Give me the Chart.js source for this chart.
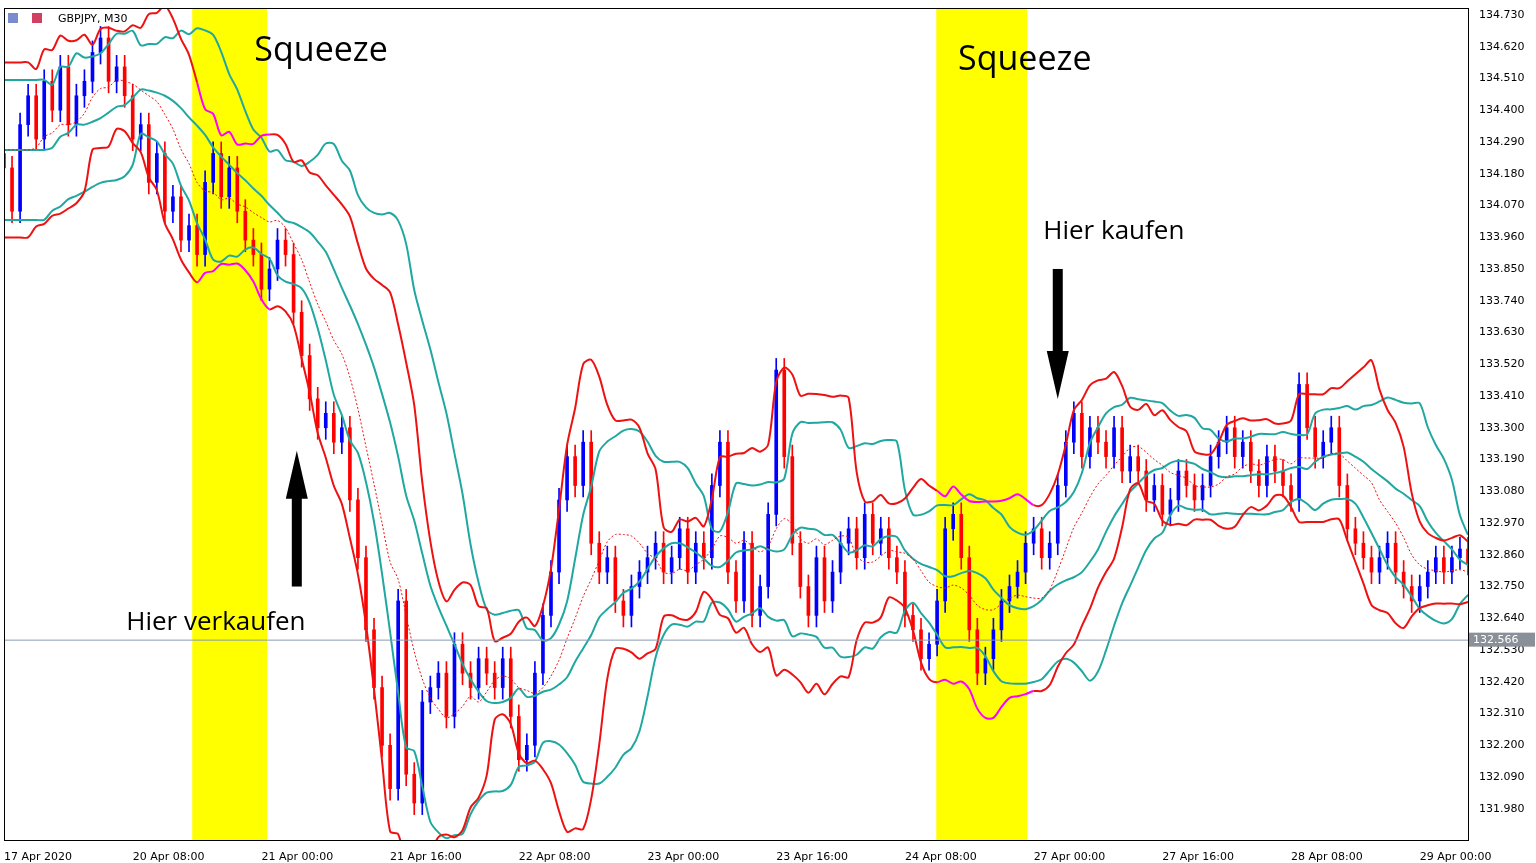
<!DOCTYPE html>
<html><head><meta charset="utf-8">
<script src="https://cdn.jsdelivr.net/npm/chart.js@4.4.1/dist/chart.umd.min.js"></script>
<style>html,body{margin:0;background:#fff}#wrap{width:1536px;height:863px}</style>
</head><body><div id="wrap"><canvas id="c"></canvas></div>
<script>
// M30 closes, one per candle (about 1 hour each)
const closes=[134.20,134.05,134.35,134.45,134.30,134.50,134.40,134.55,134.35,134.45,
134.50,134.60,134.65,134.50,134.55,134.45,134.30,134.35,134.15,134.25,
134.05,134.10,133.95,134.00,133.90,134.15,134.25,134.10,134.20,134.05,
133.95,133.90,133.78,133.85,133.95,133.90,133.70,133.55,133.40,133.30,
133.35,133.25,133.30,133.05,132.85,132.60,132.40,132.20,132.05,132.70,
132.10,132.00,132.35,132.40,132.45,132.30,132.55,132.45,132.40,132.50,
132.45,132.40,132.50,132.30,132.15,132.20,132.45,132.65,132.80,133.05,
133.20,133.10,133.25,132.90,132.80,132.85,132.70,132.65,132.75,132.80,
132.85,132.90,132.80,132.85,132.95,132.80,132.90,132.85,133.10,133.25,
132.80,132.70,132.90,132.65,132.75,133.00,133.50,133.20,132.90,132.75,
132.65,132.85,132.70,132.80,132.90,132.95,132.85,133.00,132.90,132.95,
132.85,132.80,132.65,132.60,132.50,132.55,132.70,132.95,133.00,132.85,
132.60,132.45,132.50,132.60,132.70,132.75,132.80,132.90,132.95,132.85,
132.90,133.10,133.25,133.35,133.20,133.30,133.25,133.20,133.30,133.15,
133.20,133.15,133.05,133.10,133.00,133.05,133.15,133.10,133.05,133.10,
133.20,133.25,133.30,133.20,133.25,133.15,133.10,133.20,133.15,133.10,
133.05,133.45,133.30,133.20,133.25,133.30,133.10,132.95,132.90,132.85,
132.80,132.85,132.90,132.80,132.75,132.70,132.75,132.80,132.85,132.80,
132.85,132.88,132.83];
const firstOpen=134.25, wick=0.04;
const dateLabels={0:'17 Apr 2020',16:'20 Apr 08:00',32:'21 Apr 00:00',48:'21 Apr 16:00',64:'22 Apr 08:00',80:'23 Apr 00:00',96:'23 Apr 16:00',112:'24 Apr 08:00',128:'27 Apr 00:00',144:'27 Apr 16:00',160:'28 Apr 08:00',176:'29 Apr 00:00'};
const priceTicks=[131.98,132.09,132.20,132.31,132.42,132.53,132.64,132.75,132.86,132.97,133.08,133.19,133.30,133.41,133.52,133.63,133.74,133.85,133.96,134.07,134.18,134.29,134.40,134.51,134.62,134.73];
const squeezes=[[23.4,32.7],[115.9,127.2]];
const lastPrice=132.566;

const opens=closes.map((c,i)=>i?closes[i-1]:firstOpen);
const labels=closes.map((_,i)=>i);
const bodies=closes.map((c,i)=>[opens[i],c]);
const wicks=closes.map((c,i)=>[Math.min(c,opens[i])-wick,Math.max(c,opens[i])+wick]);
const col=closes.map((c,i)=>c>=opens[i]?'#0000ff':'#ff0000');
function bands(p,k,shift){
  const up=[],lo=[],mid=[];
  closes.forEach((_,i)=>{
    const j=Math.max(i-shift,3), w=closes.slice(Math.max(0,j-p+1),j+1), m=w.reduce((a,b)=>a+b)/w.length;
    const sd=Math.sqrt(w.reduce((a,b)=>a+(b-m)**2,0)/w.length);
    up.push(m+k*sd);lo.push(m-k*sd);mid.push(m);
  });
  return {up,lo,mid};
}
const red=bands(10,2,0), teal=bands(14,1.6,2);
const inSq=x=>squeezes.some(s=>x>=s[0]&&x<=s[1]);
const redSeg={borderColor:c=>inSq(c.p0DataIndex)?'#ff00ff':'#ee1111'};
const line=(data,color,extra)=>Object.assign({type:'line',data,borderColor:color,borderWidth:2,pointRadius:0,tension:0.3},extra||{});

const overlay={id:'overlay',
 beforeDatasetsDraw(ch){
  const {ctx,chartArea:a,scales:{x}}=ch;
  ctx.save();ctx.fillStyle='#ffff00';
  squeezes.forEach(s=>{const x0=x.getPixelForValue(s[0]),x1=x.getPixelForValue(s[1]);ctx.fillRect(x0,a.top,x1-x0,a.bottom-a.top);});
  ctx.restore();
 },
 afterDatasetsDraw(ch){
  const {ctx,chartArea:a,scales:{x,y}}=ch;
  ctx.save();
  const yl=y.getPixelForValue(lastPrice);
  ctx.strokeStyle='#8a9ab0';ctx.lineWidth=1;ctx.beginPath();ctx.moveTo(a.left,yl+.5);ctx.lineTo(a.right,yl+.5);ctx.stroke();
  ctx.fillStyle='#8a9099';ctx.fillRect(a.right+1,yl-7,66,14);
  ctx.fillStyle='#fff';ctx.font='11px "DejaVu Sans"';ctx.textBaseline='middle';ctx.fillText(lastPrice.toFixed(3),a.right+5,yl);
  ctx.fillStyle='#000';ctx.font='34px "Open Sans"';ctx.textBaseline='alphabetic';
  ctx.fillText('Squeeze',x.getPixelForValue(31)+1,y.getPixelForValue(134.57));
  ctx.fillText('Squeeze',x.getPixelForValue(118.6),y.getPixelForValue(134.54));
  ctx.font='26px "Open Sans"';
  ctx.fillText('Hier verkaufen',x.getPixelForValue(15.2),y.getPixelForValue(132.60));
  ctx.fillText('Hier kaufen',x.getPixelForValue(129.2),y.getPixelForValue(133.955));
  const arrow=(xi,p0,p1)=>{const xx=x.getPixelForValue(xi),y0=y.getPixelForValue(p0),y1=y.getPixelForValue(p1),d=y1<y0?1:-1;
    ctx.fillRect(xx-5,Math.min(y0,y1+d*45),10,Math.abs(y0-y1)-45);
    ctx.beginPath();ctx.moveTo(xx,y1);ctx.lineTo(xx-11,y1+d*48);ctx.lineTo(xx+11,y1+d*48);ctx.closePath();ctx.fill();};
  arrow(36.4,132.75,133.22);arrow(131.0,133.85,133.4);
  ctx.font='11px "DejaVu Sans"';ctx.textBaseline='middle';
  ctx.fillStyle='#7a8cd0';ctx.fillRect(a.left+4,a.top+5,10,10);ctx.fillStyle='#d04060';ctx.fillRect(a.left+28,a.top+5,10,10);
  ctx.fillStyle='#000';ctx.fillText('GBPJPY, M30',a.left+54,a.top+11);
  ctx.strokeStyle='#000';ctx.lineWidth=1;ctx.strokeRect(a.left+.5,a.top+.5,a.right-a.left,a.bottom-a.top);
  ctx.restore();
 }};

new Chart(document.getElementById('c'),{
 data:{labels,datasets:[
  line(red.mid,'#ee1111',{borderWidth:1,borderDash:[2,2]}),
  line(red.up,'#ee1111',{segment:redSeg}),
  line(red.lo,'#ee1111',{segment:redSeg}),
  line(teal.up,'#20a8a0'),line(teal.lo,'#20a8a0'),line(teal.mid,'#20a8a0'),
  {type:'bar',data:wicks,backgroundColor:col,barThickness:1,grouped:false},
  {type:'bar',data:bodies,backgroundColor:col,barThickness:3,grouped:false,minBarLength:1}
 ]},
 options:{responsive:true,maintainAspectRatio:false,animation:false,
  layout:{padding:{left:4,top:8,right:0,bottom:0}},
  plugins:{legend:{display:false},tooltip:{enabled:false}},
  scales:{
   x:{offset:false,grid:{display:false},border:{color:'#000'},
    ticks:{autoSkip:false,maxRotation:0,align:'start',color:'#000',font:{family:'DejaVu Sans',size:11},callback:(v)=>dateLabels[v]||''},
    afterFit:s=>{s.height=23;s.paddingLeft=0;s.paddingRight=0;}},
   y:{position:'right',min:131.872,max:134.754,grid:{display:false},border:{color:'#000'},
    afterBuildTicks:s=>{s.ticks=priceTicks.map(value=>({value}));},
    ticks:{color:'#000',font:{family:'DejaVu Sans',size:11},callback:v=>v.toFixed(3)},
    afterFit:s=>{s.width=68;s.paddingTop=0;s.paddingBottom=0;}}
  }},
 plugins:[overlay]
});
</script></body></html>
